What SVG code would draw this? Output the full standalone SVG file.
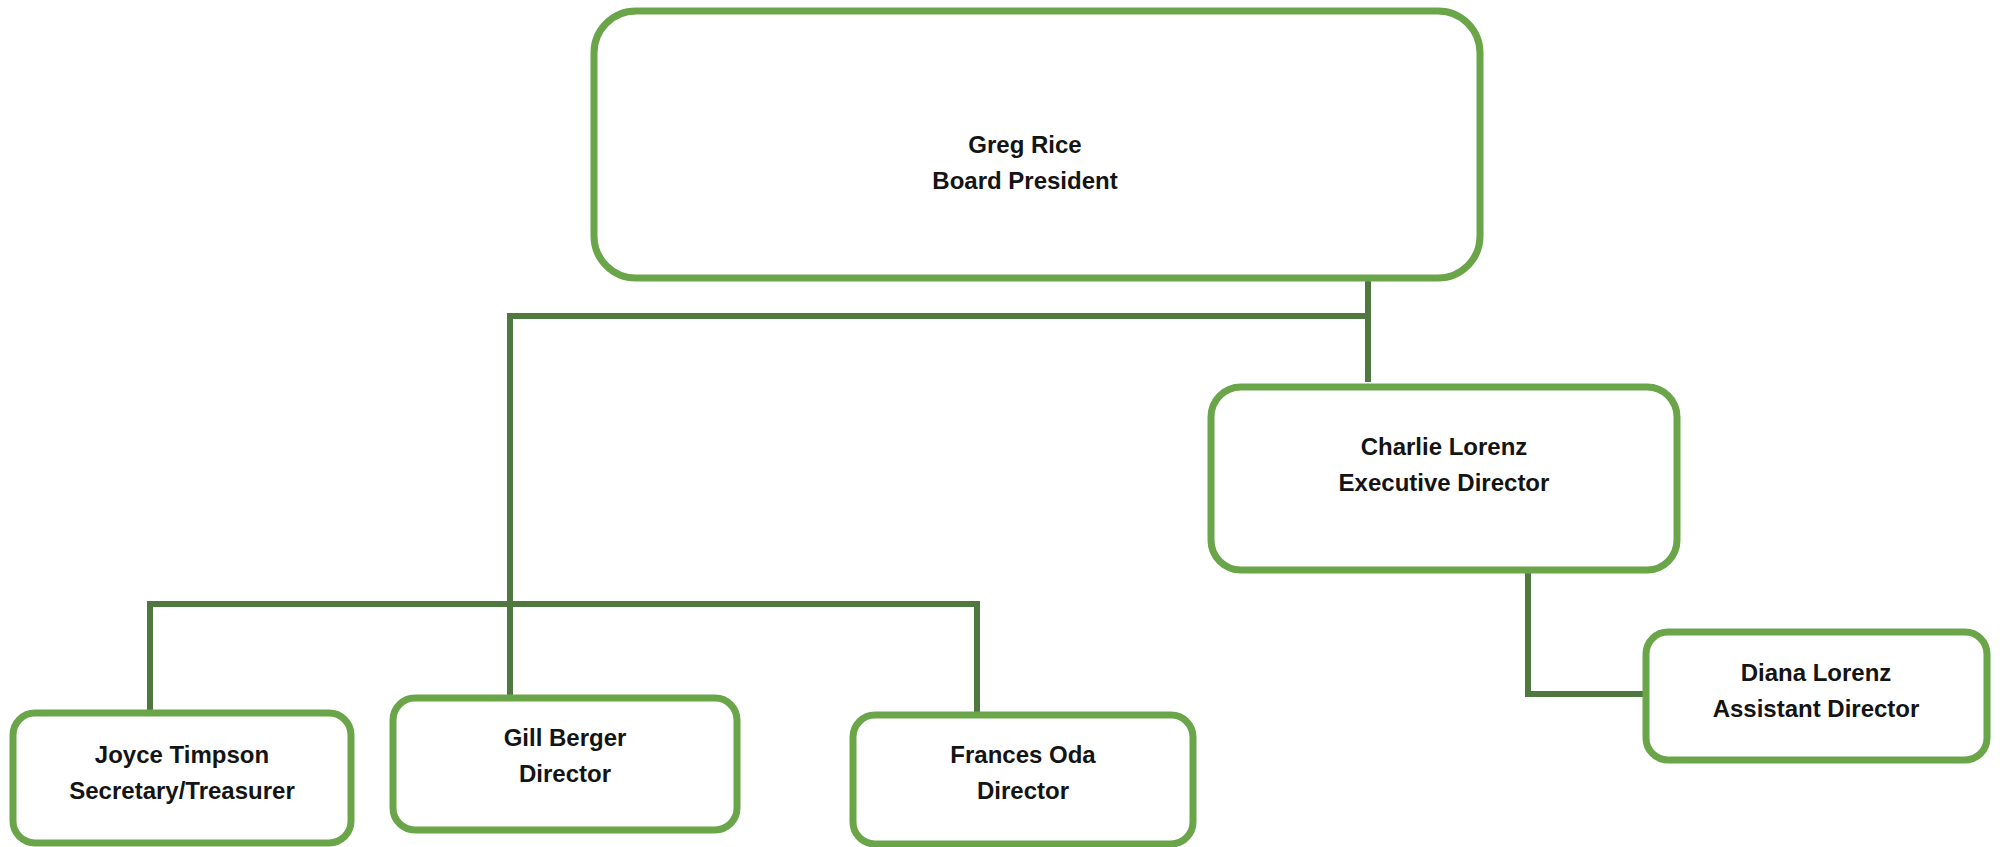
<svg xmlns="http://www.w3.org/2000/svg" width="2000" height="847" viewBox="0 0 2000 847">
<style>
.box{fill:#ffffff;stroke:#6aa54a;stroke-width:7}
.conn{fill:none;stroke:#4f7740;stroke-width:6;stroke-linejoin:miter;stroke-linecap:butt}
.t{font-family:"Liberation Sans",Arial,sans-serif;font-weight:bold;font-size:24px;fill:#141414;text-anchor:middle}
</style>
<rect width="2000" height="847" fill="#ffffff"/>
<g id="connectors">
<path class="conn" d="M1368,280 V382"/>
<path class="conn" d="M1368,316 H510 V698"/>
<path class="conn" d="M150,712 V604 H977 V713"/>
<path class="conn" d="M1528,572 V694 H1646"/>
</g>
<g id="greg-rice">
<rect class="box" x="594" y="11" width="886" height="267" rx="42"/>
<text class="t" x="1025" y="153">Greg Rice</text>
<text class="t" x="1025" y="189">Board President</text>
</g>
<g id="charlie-lorenz">
<rect class="box" x="1211" y="387" width="466" height="183" rx="30"/>
<text class="t" x="1444" y="455">Charlie Lorenz</text>
<text class="t" x="1444" y="491">Executive Director</text>
</g>
<g id="diana-lorenz">
<rect class="box" x="1646" y="632" width="341" height="128" rx="22"/>
<text class="t" x="1816" y="681">Diana Lorenz</text>
<text class="t" x="1816" y="717">Assistant Director</text>
</g>
<g id="joyce-timpson">
<rect class="box" x="13" y="713" width="338" height="130" rx="22"/>
<text class="t" x="182" y="763">Joyce Timpson</text>
<text class="t" x="182" y="799">Secretary/Treasurer</text>
</g>
<g id="gill-berger">
<rect class="box" x="393" y="698" width="344" height="132" rx="22"/>
<text class="t" x="565" y="746">Gill Berger</text>
<text class="t" x="565" y="782">Director</text>
</g>
<g id="frances-oda">
<rect class="box" x="853" y="715" width="340" height="129" rx="22"/>
<text class="t" x="1023" y="763">Frances Oda</text>
<text class="t" x="1023" y="799">Director</text>
</g>
</svg>
